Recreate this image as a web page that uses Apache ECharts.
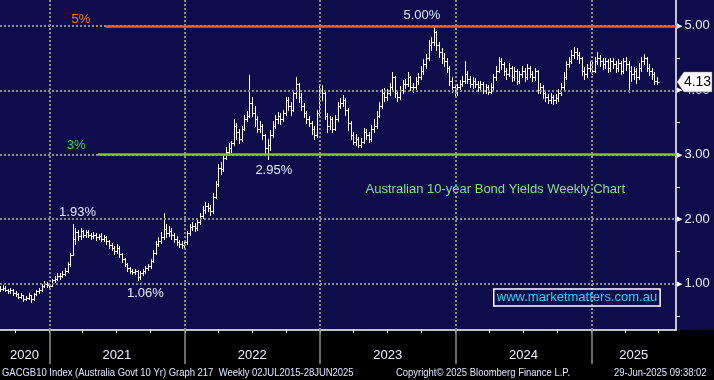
<!DOCTYPE html>
<html><head><meta charset="utf-8">
<script src="https://cdn.jsdelivr.net/npm/echarts@6/dist/echarts.min.js"></script>
<style>html,body{margin:0;padding:0;background:#000}#c{width:714px;height:380px}</style>
</head><body><div id="c"></div>
<script>
// ---- data (weekly, first week ending 2020-08-21, last 2025-06-27) ----
const firstWeek = '2020-08-21';
const closes = [
0.92,0.94,0.90,0.88,0.90,0.86,0.84,0.80,0.82,0.76,
0.78,0.82,0.76,0.84,0.88,0.90,0.97,1.00,0.98,0.97,
1.05,1.08,1.12,1.12,1.15,1.20,1.30,1.45,1.70,1.80,
1.74,1.82,1.76,1.80,1.76,1.74,1.76,1.72,1.74,1.70,
1.72,1.66,1.60,1.56,1.50,1.56,1.46,1.38,1.30,1.24,
1.20,1.18,1.20,1.10,1.16,1.20,1.24,1.27,1.35,1.48,
1.62,1.66,1.72,1.85,1.78,1.82,1.76,1.70,1.65,1.62,
1.60,1.64,1.78,1.88,1.90,1.86,1.95,2.05,2.15,2.20,
2.18,2.12,2.35,2.55,2.80,2.78,2.95,3.05,3.10,3.18,
3.45,3.35,3.25,3.40,3.55,3.60,3.80,3.65,3.55,3.40,
3.45,3.30,3.10,3.15,3.30,3.45,3.55,3.60,3.55,3.65,
3.85,3.75,3.70,3.95,4.10,3.90,3.75,3.65,3.55,3.50,
3.40,3.30,3.65,4.00,3.95,3.60,3.45,3.55,3.40,3.55,
3.75,3.80,3.85,3.70,3.50,3.30,3.20,3.25,3.15,3.20,
3.35,3.30,3.25,3.40,3.45,3.60,3.75,3.95,3.90,3.95,
4.05,4.20,3.95,3.90,4.00,4.10,4.10,4.20,4.05,4.05,
4.15,4.20,4.30,4.40,4.50,4.70,4.75,4.90,4.70,4.60,
4.50,4.45,4.35,4.15,4.05,3.98,4.05,4.10,4.15,4.25,
4.18,4.10,4.15,4.10,4.05,4.10,4.00,4.05,3.98,4.05,
4.20,4.30,4.45,4.40,4.30,4.25,4.35,4.20,4.30,4.15,
4.25,4.30,4.20,4.35,4.25,4.20,4.30,4.00,4.05,3.95,
3.90,3.85,3.90,3.85,3.88,3.95,4.05,4.20,4.40,4.45,
4.55,4.60,4.55,4.50,4.30,4.25,4.35,4.40,4.30,4.45,
4.50,4.45,4.40,4.45,4.35,4.45,4.40,4.35,4.42,4.30,
4.45,4.40,4.30,4.25,4.30,4.20,4.35,4.45,4.50,4.35,
4.30,4.25,4.15,4.13];
const highs = [
0.96,0.98,0.96,0.92,0.93,0.92,0.88,0.86,0.85,0.83,
0.81,0.86,0.83,0.86,0.91,0.94,1.00,1.04,1.02,1.01,
1.08,1.12,1.16,1.16,1.19,1.24,1.33,1.48,1.93,1.86,
1.84,1.86,1.84,1.84,1.83,1.79,1.80,1.78,1.77,1.78,
1.76,1.74,1.68,1.63,1.58,1.62,1.58,1.48,1.40,1.32,
1.26,1.23,1.23,1.21,1.19,1.23,1.27,1.31,1.38,1.52,
1.66,1.72,1.80,2.10,1.92,1.90,1.86,1.79,1.74,1.68,
1.66,1.68,1.82,1.92,1.96,1.94,1.99,2.10,2.20,2.26,
2.25,2.22,2.40,2.60,2.85,2.88,3.00,3.12,3.18,3.22,
3.55,3.50,3.40,3.45,3.62,3.68,4.23,3.90,3.75,3.60,
3.52,3.48,3.32,3.25,3.38,3.52,3.62,3.66,3.64,3.70,
3.90,3.90,3.82,4.00,4.20,4.12,3.95,3.80,3.68,3.60,
3.52,3.45,3.70,4.06,4.08,3.98,3.65,3.60,3.58,3.62,
3.82,3.88,3.92,3.88,3.72,3.52,3.35,3.32,3.28,3.26,
3.42,3.40,3.36,3.46,3.55,3.68,3.82,4.02,4.03,4.02,
4.12,4.28,4.22,4.00,4.06,4.16,4.18,4.28,4.22,4.12,
4.20,4.27,4.38,4.48,4.56,4.78,4.82,5.00,4.92,4.75,
4.66,4.58,4.50,4.38,4.20,4.10,4.10,4.16,4.22,4.45,
4.30,4.22,4.20,4.19,4.14,4.15,4.13,4.10,4.08,4.12,
4.25,4.38,4.52,4.50,4.44,4.35,4.42,4.38,4.36,4.33,
4.30,4.38,4.34,4.40,4.38,4.30,4.34,4.31,4.12,4.08,
4.00,3.94,3.95,3.93,3.94,4.02,4.12,4.28,4.46,4.52,
4.62,4.67,4.65,4.60,4.52,4.36,4.40,4.46,4.44,4.52,
4.60,4.55,4.50,4.50,4.48,4.50,4.50,4.45,4.48,4.45,
4.50,4.52,4.45,4.38,4.36,4.34,4.42,4.52,4.56,4.52,
4.40,4.34,4.28,4.20];
const lows = [
0.88,0.90,0.88,0.85,0.86,0.83,0.81,0.78,0.78,0.73,
0.74,0.77,0.72,0.75,0.82,0.86,0.88,0.95,0.95,0.94,
0.96,1.03,1.06,1.08,1.10,1.13,1.18,1.28,1.44,1.62,
1.68,1.70,1.72,1.73,1.72,1.70,1.71,1.68,1.69,1.66,
1.66,1.62,1.56,1.52,1.46,1.48,1.42,1.34,1.27,1.20,
1.17,1.15,1.15,1.06,1.08,1.13,1.17,1.21,1.25,1.33,
1.46,1.58,1.63,1.70,1.72,1.74,1.70,1.64,1.60,1.57,
1.55,1.57,1.62,1.76,1.84,1.82,1.84,1.93,2.02,2.10,
2.12,2.06,2.10,2.33,2.52,2.70,2.75,2.93,3.00,3.05,
3.15,3.25,3.18,3.22,3.38,3.52,3.58,3.60,3.45,3.35,
3.36,3.25,3.00,2.93,3.08,3.28,3.42,3.50,3.48,3.52,
3.62,3.70,3.62,3.68,3.88,3.82,3.70,3.58,3.50,3.45,
3.32,3.25,3.28,3.62,3.85,3.55,3.35,3.40,3.35,3.38,
3.52,3.72,3.76,3.62,3.38,3.25,3.16,3.15,3.12,3.12,
3.18,3.24,3.20,3.22,3.36,3.42,3.58,3.72,3.84,3.85,
3.92,4.02,3.90,3.84,3.86,3.96,4.03,4.06,4.00,3.98,
4.02,4.10,4.17,4.26,4.35,4.47,4.62,4.70,4.62,4.52,
4.42,4.38,4.28,4.08,3.98,3.90,3.93,4.00,4.06,4.12,
4.12,4.05,4.04,4.05,3.99,4.00,3.95,3.96,3.94,3.95,
4.02,4.16,4.28,4.33,4.24,4.18,4.22,4.15,4.16,4.10,
4.12,4.20,4.15,4.18,4.20,4.14,4.16,3.95,3.96,3.88,
3.84,3.80,3.80,3.78,3.80,3.84,3.92,4.02,4.18,4.36,
4.42,4.50,4.48,4.42,4.24,4.18,4.20,4.30,4.25,4.28,
4.40,4.38,4.33,4.35,4.28,4.30,4.34,4.28,4.30,4.25,
4.27,4.32,3.97,4.15,4.18,4.12,4.18,4.30,4.40,4.30,
4.24,4.18,4.10,4.10];
const yLabelValues = [1, 2, 3, 4, 5];
const yMinorValues = [0.5, 1.5, 2.5, 3.5, 4.5];
const yearTicks = ['2021-01-01','2022-01-01','2023-01-01','2024-01-01','2025-01-01'];
const yearLabelDates = ['2020-10-26','2021-07-02','2022-07-02','2023-07-02','2024-07-02','2025-04-25'];
const levelLines = [
  {value: 5, from: '2021-06-02', color: '#ff5b14', width: 2.5},
  {value: 3, from: '2021-05-12', color: '#80c41c', width: 2.5}
];
const notes = [
  {text: '5%',    at: ['2021-03-27', 5.10],  color: '#f0801c'},
  {text: '3%',    at: ['2021-03-14', 3.14],  color: '#22dd22'},
  {text: '5.00%', at: ['2023-10-02', 5.166], color: '#dfeaff'},
  {text: '1.93%', at: ['2021-03-18', 2.11],  color: '#dfeaff'},
  {text: '2.95%', at: ['2022-08-29', 2.75],  color: '#dfeaff'},
  {text: '1.06%', at: ['2021-09-17', 0.856], color: '#dfeaff'},
  {text: 'Australian 10-year Bond Yields Weekly Chart', at: ['2024-04-17', 2.457], color: '#82e08a'}
];
const siteNote = {text: 'www.marketmatters.com.au', at: ['2024-11-23', 0.786]};
const footer = [
  {text: 'GACGB10 Index (Australia Govt 10 Yr) Graph 217  Weekly 02JUL2015-28JUN2025', left: 2},
  {text: 'Copyright\u00a9 2025 Bloomberg Finance L.P.', left: 396},
  {text: '29-Jun-2025 09:38:02', left: 614}
];
const xMin = '2020-08-21', xMax = '2025-08-17';
const yMin = 0.282, yMax = 5.40;

// ---- build ----
const DAY = 86400000;
const ts = s => Date.parse(s + 'T00:00:00Z');
const t0 = ts(firstWeek);
const ohlc = closes.map((c, i) => [t0 + i * 7 * DAY, i ? closes[i - 1] : c, c, lows[i], highs[i]]);
const quarterTicks = [];
for (let y = 2020; y <= 2025; y++) for (let m = 0; m < 12; m += 3) {
  const t = Date.UTC(y, m, 1); if (t > ts(xMin) && t < ts(xMax)) quarterTicks.push(t);
}
const FONT = 'Liberation Sans';
const dotted = {color: '#8e8e8e', width: 2, type: [2, 2]};

function renderOHLC(params, api) {
  const t = api.value(0);
  const pO = api.coord([t, api.value(1)]);
  const pC = api.coord([t, api.value(2)]);
  const pL = api.coord([t, api.value(3)]);
  const pH = api.coord([t, api.value(4)]);
  const x = Math.round(pO[0]) + 0.5;
  const s = {stroke: '#ffffff', lineWidth: 1};
  const yo = Math.round(pO[1]) + 0.5, yc = Math.round(pC[1]) + 0.5;
  return {type: 'group', children: [
    {type: 'line', shape: {x1: x, y1: Math.round(pH[1]), x2: x, y2: Math.round(pL[1]) + 1}, style: s},
    {type: 'line', shape: {x1: x - 2, y1: yo, x2: x, y2: yo}, style: s},
    {type: 'line', shape: {x1: x, y1: yc, x2: x + 2, y2: yc}, style: s}
  ]};
}

const last = closes[closes.length - 1];
const chart = echarts.init(document.getElementById('c'), null, {renderer: 'canvas'});
chart.setOption({
  animation: false,
  backgroundColor: '#0f0c4b',
  textStyle: {fontFamily: FONT},
  graphic: {elements: [
    {type: 'rect', z: -100, left: 0, top: 330, shape: {width: 714, height: 50}, style: {fill: '#000000'}}
  ].concat(footer.map(f => ({type: 'text', left: f.left, top: 367, scaleX: 0.86,
      style: {text: f.text, fill: '#dfe6ff', fontFamily: FONT, fontSize: 11}})))},
  grid: {left: 0, right: 38, top: 0, bottom: 50, show: false},
  xAxis: [
    {type: 'value', min: ts(xMin), max: ts(xMax), position: 'bottom',
     axisLine: {show: true, lineStyle: {color: '#ffffff', width: 1.5}},
     axisTick: {show: true, customValues: quarterTicks, length: 3, lineStyle: {color: '#ffffff', width: 1}},
     axisLabel: {show: false}, splitLine: {show: false}},
    {type: 'value', min: ts(xMin), max: ts(xMax), position: 'bottom',
     axisLine: {show: false},
     axisTick: {show: true, customValues: yearTicks.map(ts), length: 34, lineStyle: {color: '#8c8c8c', width: 1.5}},
     axisLabel: {show: true, customValues: yearLabelDates.map(ts), margin: 19, color: '#eef2ff', fontSize: 13, fontFamily: FONT,
       formatter: v => String(new Date(v).getUTCFullYear())},
     splitLine: {show: false}}
  ],
  yAxis: [{type: 'value', min: yMin, max: yMax, position: 'right',
    axisLine: {show: true, lineStyle: {color: '#ffffff', width: 1.5}},
    axisTick: {show: true, customValues: yMinorValues, length: 4, lineStyle: {color: '#ffffff'}},
    axisLabel: {show: true, customValues: yLabelValues, margin: 1,
      formatter: v => '{t|\u25B6}{v|' + v.toFixed(2) + '}',
      rich: {t: {fontFamily: 'DejaVu Sans', fontSize: 7, color: '#ffffff'},
             v: {fontFamily: FONT, fontSize: 13, color: '#e6efff', padding: [0, 0, 0, 2]}}},
    splitLine: {show: false}}],
  series: [
    {type: 'line', name: 'grid', data: [], z: 1, silent: true,
     markLine: {silent: true, symbol: 'none', label: {show: false}, animation: false,
       data: yLabelValues.map(v => ({yAxis: v, lineStyle: dotted}))
         .concat(yearTicks.map(d => ({xAxis: ts(d), lineStyle: dotted})))}},
    {type: 'line', name: 'levels', data: [], z: 2, silent: true,
     markLine: {silent: true, symbol: 'none', label: {show: false}, animation: false,
       data: levelLines.map(l => [{coord: [ts(l.from), l.value], lineStyle: {color: l.color, width: l.width, type: 'solid'}},
                                  {coord: [ts(xMax), l.value]}])},
     markPoint: {silent: true, symbol: 'circle', symbolSize: 0, animation: false,
       data: notes.map(n => ({coord: [ts(n.at[0]), n.at[1]], label: {show: true, position: 'inside', formatter: n.text, color: n.color, fontSize: 13, fontFamily: FONT}}))
         .concat([{coord: [ts(siteNote.at[0]), siteNote.at[1]], label: {show: true, position: 'inside', formatter: siteNote.text, color: '#1fd8f2', fontSize: 13, fontFamily: FONT,
           borderColor: '#ffffff', borderWidth: 1.5, padding: [2, 3, 2, 3]}}])}},
    {type: 'custom', name: 'GACGB10', z: 3, renderItem: renderOHLC, data: ohlc, clip: true,
     encode: {x: 0, y: [1, 2, 3, 4]},
     markPoint: {silent: true, animation: false,
       data: [{coord: [ts(xMax), last], symbol: 'path://M0,10L7,0L36,0L36,20L7,20Z', symbolSize: [35, 20], symbolKeepAspect: false,
               symbolOffset: [18.5, 0], itemStyle: {color: '#ffffff', borderColor: '#666', borderWidth: 0.5},
               label: {show: true, position: 'inside', offset: [3, 0], formatter: last.toFixed(2), color: '#000000', fontSize: 14, fontFamily: FONT}}]}}
  ]
});
</script></body></html>
